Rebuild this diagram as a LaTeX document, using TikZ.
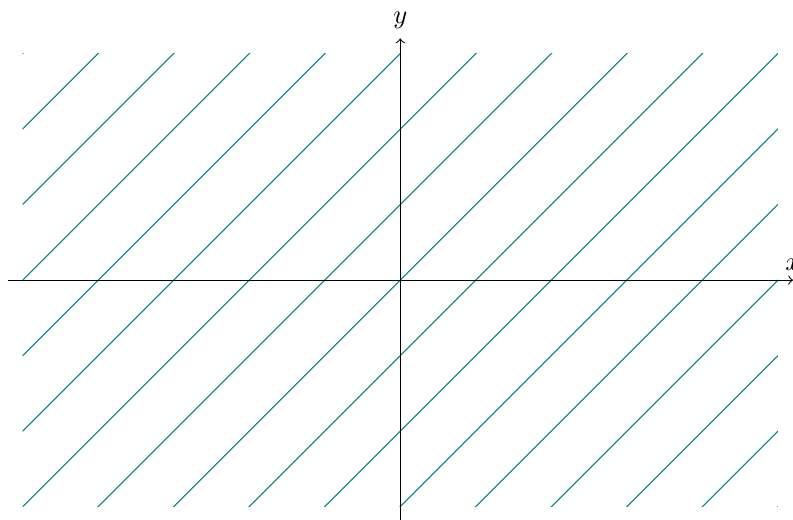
\documentclass[tikz,border=0pt]{standalone}
\usetikzlibrary{calc}

\begin{document}
\begin{tikzpicture}
  \useasboundingbox (-5.3,-3.166) rectangle (5.2,3.709);
  %% field of lines y = x + c
  \begin{scope}
    \clip (-5,-3) rectangle (5,3);
    \foreach \c in {-8,...,8} {
      \draw[teal,thin] (-6,{-6+\c}) -- (6,{6+\c});
    }
  \end{scope}
  %% axes
  \coordinate (XL) at (-5.2,0);
  \coordinate (XR) at (5.2,0);
  \coordinate (YB) at (0,-3.2);
  \coordinate (YT) at (0,3.2);
  \node[above] (Xlab) at (XR) {$x$};
  \node[above] (Ylab) at (YT) {$y$};
  \path[->] (XL) edge (XR) (YB) edge (YT);
\end{tikzpicture}
\end{document}
